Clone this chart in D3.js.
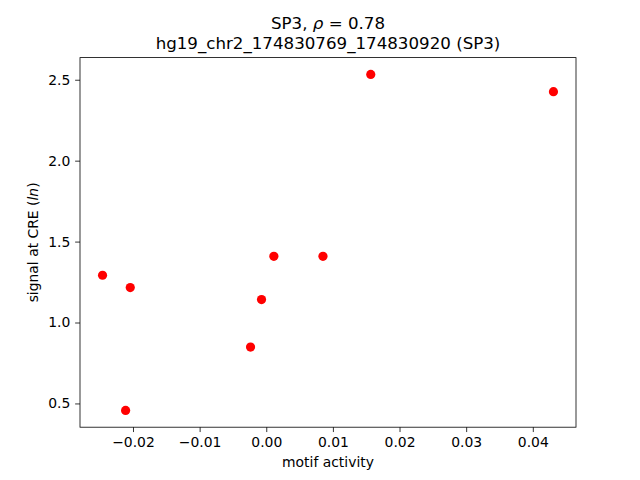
<!DOCTYPE html>
<html><head><meta charset="utf-8">
<script src="https://cdn.jsdelivr.net/npm/d3@7"></script>
<style>body{margin:0;background:#fff}svg{display:block}text{font-family:"DejaVu Sans",sans-serif;fill:#000}</style>
</head><body>
<script>
const motifActivity = [-0.02457, -0.02041, -0.02111, -0.00236, -0.00071, 0.00114, 0.00851, 0.01568, 0.04310];
const signalAtCRE   = [1.292, 1.216, 0.457, 0.848, 1.142, 1.409, 1.409, 2.533, 2.426];
const xTicks = [-0.02, -0.01, 0.00, 0.01, 0.02, 0.03, 0.04];
const yTicks = [0.5, 1.0, 1.5, 2.0, 2.5];

const W = 640, H = 480;
const m = {left: 80, right: 576, top: 57.6, bottom: 427.2};
const svg = d3.select("body").append("svg").attr("width", W).attr("height", H);

function padded(v) { const lo = d3.min(v), hi = d3.max(v), p = (hi - lo) * 0.05; return [lo - p, hi + p]; }
const x = d3.scaleLinear().domain(padded(motifActivity)).range([m.left, m.right]);
const y = d3.scaleLinear().domain(padded(signalAtCRE)).range([m.bottom, m.top]);

const fmtX = d => (d < 0 ? "\u2212" : "") + Math.abs(d).toFixed(2);
const fmtY = d => d.toFixed(1);

const xa = svg.append("g").attr("transform", `translate(0,${m.bottom})`)
  .call(d3.axisBottom(x).tickValues(xTicks).tickFormat(fmtX).tickSize(4.86).tickPadding(4.86));
const ya = svg.append("g").attr("transform", `translate(${m.left},0)`)
  .call(d3.axisLeft(y).tickValues(yTicks).tickFormat(fmtY).tickSize(4.86).tickPadding(4.86));
[xa, ya].forEach(g => {
  g.select(".domain").remove();
  g.selectAll("line").attr("stroke", "#000").attr("stroke-width", 0.8);
  g.selectAll("text").attr("font-size", "13.9px").attr("font-family", "DejaVu Sans").attr("fill", "#000");
});

svg.append("rect").attr("x", m.left).attr("y", m.top).attr("width", m.right - m.left).attr("height", m.bottom - m.top)
  .attr("fill", "none").attr("stroke", "#000").attr("stroke-width", 0.8);

svg.append("g").selectAll("circle").data(motifActivity).join("circle")
  .attr("cx", d => x(d)).attr("cy", (d, i) => y(signalAtCRE[i])).attr("r", 4.6).attr("fill", "#ff0000");

const t1 = svg.append("text").attr("x", (m.left + m.right) / 2).attr("y", 29.3).attr("text-anchor", "middle").attr("font-size", "16.67px");
t1.append("tspan").text("SP3, ");
t1.append("tspan").attr("font-style", "italic").text("\u03C1");
t1.append("tspan").text(" = 0.78");
svg.append("text").attr("x", (m.left + m.right) / 2).attr("y", 48.5).attr("text-anchor", "middle").attr("font-size", "16.67px")
  .text("hg19_chr2_174830769_174830920 (SP3)");

svg.append("text").attr("x", (m.left + m.right) / 2).attr("y", 466.5).attr("text-anchor", "middle").attr("font-size", "13.9px").text("motif activity");
const yl = svg.append("text").attr("transform", `translate(37.5,${(m.top + m.bottom) / 2}) rotate(-90)`).attr("text-anchor", "middle").attr("font-size", "13.9px");
yl.append("tspan").text("signal at CRE (");
yl.append("tspan").attr("font-style", "italic").text("ln");
yl.append("tspan").text(")");
</script>
</body></html>
